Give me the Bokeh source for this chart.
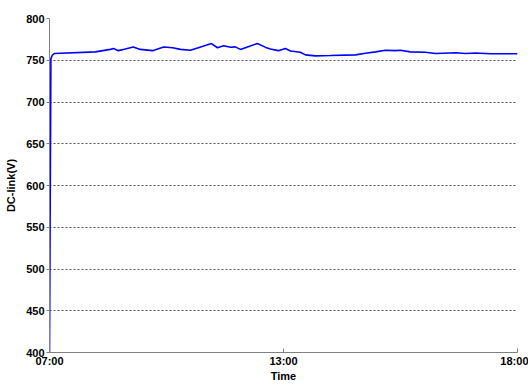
from bokeh.plotting import figure
from bokeh.models import Range1d, FixedTicker
from bokeh.embed import file_html
from bokeh.resources import INLINE

# Position along the record (percent of the logged span) and DC-link voltage
pos_pct = [0, 0.3, 0.6, 1.0, 2.35, 9.8, 13.0, 13.7, 14.7, 16.2, 17.9, 19.4, 22.0,
           24.4, 26.3, 28.0, 30.1, 32.3, 34.6, 35.9, 37.2, 38.7, 39.7, 40.8,
           42.9, 44.4, 46.2, 47.2, 48.9, 50.4, 51.5, 53.6, 54.7, 56.8, 60.0,
           65.4, 67.5, 69.7, 71.8, 73.9, 75.0, 77.1, 80.3, 82.5, 86.8, 88.9,
           91.0, 94.2, 100]
dc_link_v = [400, 752, 756, 758, 758.3, 760, 763, 764, 761.5, 763.4, 765.8, 763,
             761.5, 765.8, 765, 763, 762, 766, 770, 765, 767.4, 765.6, 766, 763,
             767, 770, 765.4, 763.4, 761.5, 764, 761, 759.5, 756.4, 755.2, 755.6,
             756.4, 758.3, 760, 762, 761.5, 762, 760, 759.5, 758, 759, 758,
             758.7, 757.7, 757.7]

time_ticks = [0, 50, 100]
time_labels = ["07:00", "13:00", "18:00"]
volt_ticks = [400, 450, 500, 550, 600, 650, 700, 750, 800]

p = figure(width=528, height=384, output_backend="svg", toolbar_location=None,
           x_range=Range1d(0, 100), y_range=Range1d(400, 800),
           min_border_left=49, min_border_right=11, min_border_top=18,
           min_border_bottom=27)
p.outline_line_color = None
p.background_fill_color = "white"
p.border_fill_color = "white"

p.line(pos_pct, dc_link_v, line_color="#0000ff", line_width=1.6)

font = "Liberation Sans"

p.xaxis.ticker = FixedTicker(ticks=time_ticks)
p.xaxis.major_label_overrides = {t: l for t, l in zip(time_ticks, time_labels)}
p.xaxis.axis_label = "Time"
p.xaxis.major_tick_in = 4
p.xaxis.major_tick_out = 0
p.xaxis.minor_tick_line_color = None
p.xaxis.major_label_standoff = 2
p.xaxis.axis_label_standoff = 0

p.yaxis.ticker = FixedTicker(ticks=volt_ticks)
p.yaxis.axis_label = "DC-link(V)"
p.yaxis.major_tick_in = 0
p.yaxis.major_tick_out = 3
p.yaxis.minor_tick_line_color = None
p.yaxis.major_label_standoff = 2
p.yaxis.axis_label_standoff = 6

for ax in (p.xaxis, p.yaxis):
    ax.axis_line_color = "#808080"
    ax.major_tick_line_color = "#808080"
    ax.major_label_text_font = font
    ax.major_label_text_font_style = "bold"
    ax.major_label_text_font_size = "11px"
    ax.major_label_text_color = "black"
    ax.axis_label_text_font = font
    ax.axis_label_text_font_style = "bold"
    ax.axis_label_text_font_size = "11px"
    ax.axis_label_text_color = "black"

p.xgrid.grid_line_color = None
p.ygrid.grid_line_color = "#555555"
p.ygrid.grid_line_dash = "2 2"
p.ygrid.grid_line_width = 1

open("out.html", "w").write(file_html(p, INLINE))
